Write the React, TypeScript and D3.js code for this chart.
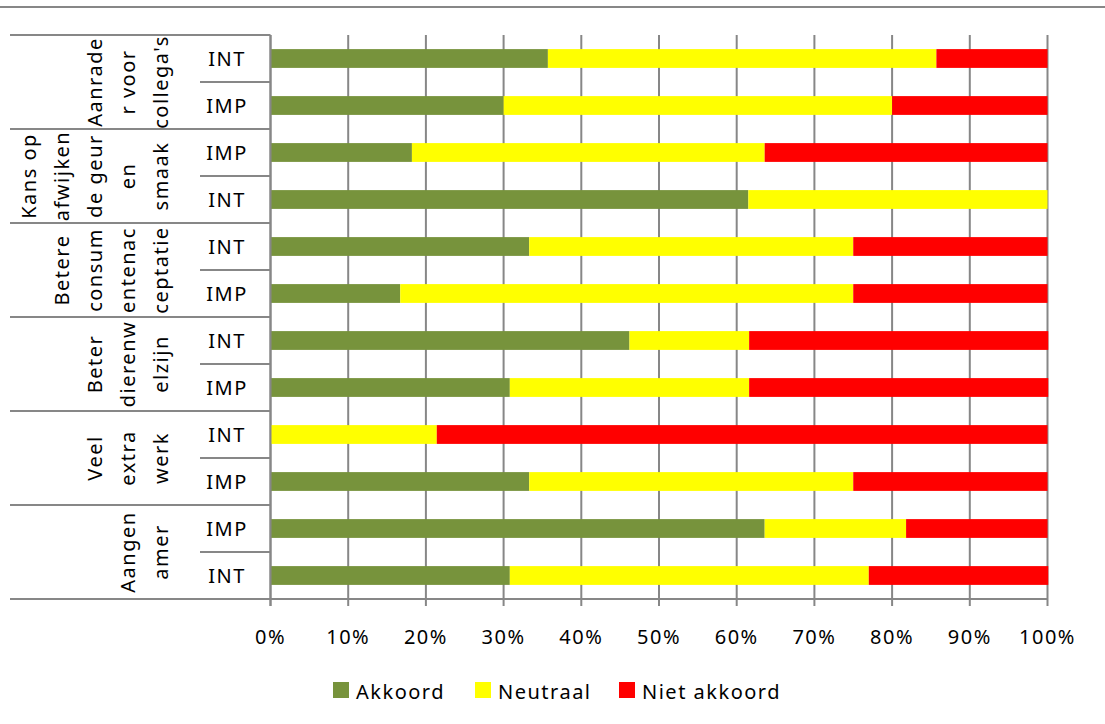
import React from "react";
import * as d3 from "d3";

// group labels, already wrapped the way the chart shows them (one entry = one line)
const groupLines: string[][] = [
  ["Aanrade", "r voor", "collega's"],
  ["Kans op", "afwijken", "de geur", "en", "smaak"],
  ["Betere", "consum", "entenac", "ceptatie"],
  ["Beter", "dierenw", "elzijn"],
  ["Veel", "extra", "werk"],
  ["Aangen", "amer"],
];

const subLabels = ["INT", "IMP", "IMP", "INT", "INT", "IMP", "INT", "IMP", "INT", "IMP", "IMP", "INT"];

// percentages per row, top to bottom
const akkoord = [35.7, 30.0, 18.2, 61.5, 33.3, 16.7, 46.2, 30.8, 0, 33.3, 63.6, 30.8];
const neutraal = [50.0, 50.0, 45.4, 38.5, 41.7, 58.3, 15.4, 30.8, 21.4, 41.7, 18.2, 46.2];
const nietAkkoord = [14.3, 20.0, 36.4, 0, 25.0, 25.0, 38.5, 38.5, 78.6, 25.0, 18.2, 23.1];

const seriesNames = ["Akkoord", "Neutraal", "Niet akkoord"];
const xTicks = [0, 10, 20, 30, 40, 50, 60, 70, 80, 90, 100];

const colors = ["#77933C", "#FFFF00", "#FF0000"];
const gray = "#878787";
const font = "'Noto Sans', sans-serif";
const fs = 20;

export default function App() {
  const width = 1105;
  const height = 724;
  const top = 35;
  const bottom = 599;

  const rows = subLabels.map((s, i) => ({
    i,
    sub: s,
    Akkoord: akkoord[i],
    Neutraal: neutraal[i],
    "Niet akkoord": nietAkkoord[i],
  }));

  const x = d3.scaleLinear().domain([0, 100]).range([270.5, 1047.5]);
  const y = d3
    .scaleBand<number>()
    .domain(rows.map((r) => r.i))
    .range([top, bottom])
    .paddingInner(0.6)
    .paddingOuter(0.3);
  const yRow = d3.scaleBand<number>().domain(rows.map((r) => r.i)).range([top, bottom]);
  const yGroup = d3
    .scaleBand<number>()
    .domain(groupLines.map((_, i) => i))
    .range([top, bottom]);

  const stack = d3.stack<any>().keys(seriesNames);
  const layers = stack(rows);

  const lineStep = 33;
  const lastLineX = 161;

  return (
    <svg
      width={width}
      height={height}
      style={{ position: "absolute", left: 0, top: 0, background: "#fff" }}
    >
      {/* top rule */}
      <line x1={0} x2={width} y1={7} y2={7} stroke={gray} strokeWidth={2} />

      {/* vertical gridlines + ticks */}
      {xTicks.map((t) => (
        <line
          key={"g" + t}
          x1={x(t)}
          x2={x(t)}
          y1={top}
          y2={bottom + 7}
          stroke={gray}
          strokeWidth={2}
        />
      ))}
      {/* bottom axis */}
      <line x1={x(0)} x2={x(100)} y1={bottom} y2={bottom} stroke={gray} strokeWidth={2} />

      {/* bars */}
      {layers.map((layer, k) => (
        <g key={layer.key} fill={colors[k]}>
          {layer.map((d, j) =>
            d[1] - d[0] > 0 ? (
              <rect
                key={j}
                x={x(d[0])}
                width={x(d[1]) - x(d[0])}
                y={y(j)}
                height={y.bandwidth()}
              />
            ) : null
          )}
        </g>
      ))}

      {/* category axis lines */}
      <line x1={x(0)} x2={x(0)} y1={top} y2={bottom + 7} stroke={gray} strokeWidth={2} />
      {groupLines.map((_, g) => (
        <line
          key={"gb" + g}
          x1={10}
          x2={x(0)}
          y1={yGroup(g)!}
          y2={yGroup(g)!}
          stroke={gray}
          strokeWidth={2}
        />
      ))}
      <line x1={10} x2={x(0)} y1={bottom} y2={bottom} stroke={gray} strokeWidth={2} />
      {groupLines.map((_, g) => (
        <line
          key={"sb" + g}
          x1={200}
          x2={x(0)}
          y1={yGroup(g)! + yGroup.bandwidth() / 2}
          y2={yGroup(g)! + yGroup.bandwidth() / 2}
          stroke={gray}
          strokeWidth={2}
        />
      ))}

      {/* sub labels */}
      {rows.map((r) => (
        <text
          key={"sl" + r.i}
          x={227}
          y={yRow(r.i)! + yRow.bandwidth() / 2}
          dy="0.36em"
          textAnchor="middle"
          fontFamily={font}
          fontSize={fs}
          letterSpacing={1.5}
          fill="#000"
        >
          {r.sub}
        </text>
      ))}

      {/* group labels, rotated */}
      {groupLines.map((lines, g) => {
        const cy = yGroup(g)! + yGroup.bandwidth() / 2;
        return lines.map((ln, li) => {
          const cx = lastLineX - lineStep * (lines.length - 1 - li);
          return (
            <text
              key={"gl" + g + "-" + li}
              transform={`translate(${cx},${cy}) rotate(-90)`}
              dy="0.36em"
              textAnchor="middle"
              fontFamily={font}
              fontSize={fs}
              letterSpacing={1.5}
              fill="#000"
            >
              {ln}
            </text>
          );
        });
      })}

      {/* x tick labels */}
      {xTicks.map((t) => (
        <text
          key={"xt" + t}
          x={x(t)}
          y={644}
          textAnchor="middle"
          fontFamily={font}
          fontSize={fs}
          letterSpacing={1.5}
          fill="#000"
        >
          {t + "%"}
        </text>
      ))}

      {/* legend */}
      {seriesNames.map((name, k) => {
        const lx = [333, 475, 619][k];
        return (
          <g key={"lg" + name}>
            <rect x={lx} y={682} width={16} height={16} fill={colors[k]} />
            <text
              x={lx + 23}
              y={699}
              fontFamily={font}
              fontSize={fs}
              letterSpacing={1.5}
              fill="#000"
            >
              {name}
            </text>
          </g>
        );
      })}
    </svg>
  );
}
